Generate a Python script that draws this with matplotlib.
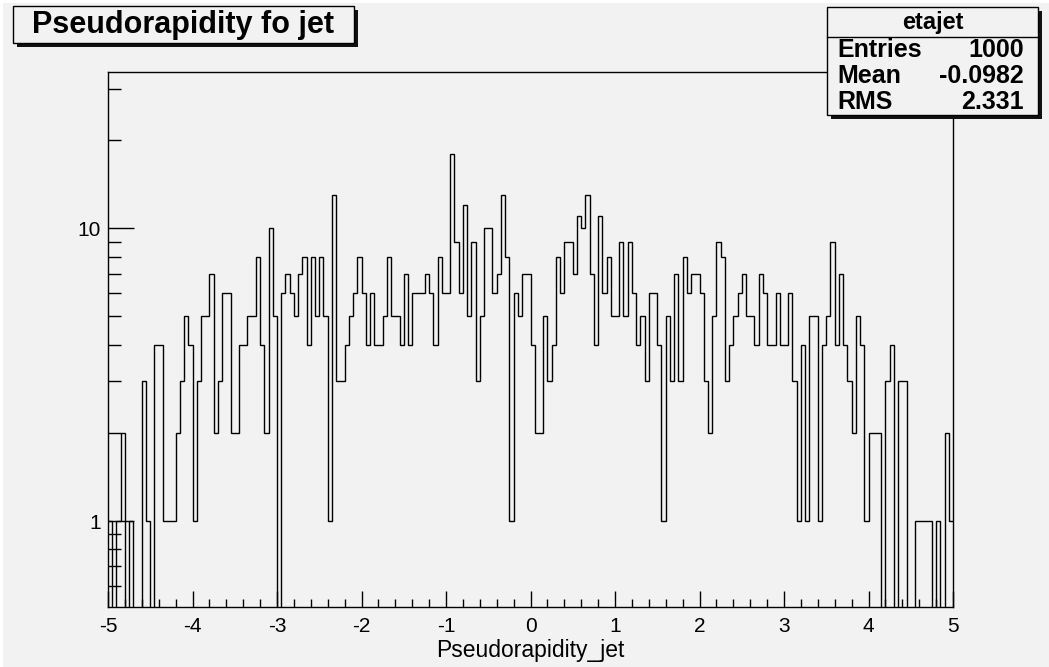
import matplotlib
matplotlib.use('Agg')
import matplotlib.pyplot as plt
import numpy as np
from matplotlib.patches import Rectangle
from matplotlib.ticker import MultipleLocator, FixedLocator, FuncFormatter, NullFormatter

# histogram etajet: 200 bins from -5 to 5, counts
x_min, x_max, n_bins = -5.0, 5.0, 200
counts = [
    1, 0, 1, 2, 0, 1, 0, 0, 3, 1, 0, 4, 4, 1, 1, 1, 2, 3, 5, 4, 1, 3, 5, 5, 7, 2, 3, 6, 6, 2, 2, 4, 4,
    5, 5, 8, 4, 2, 10, 5, 0, 6, 7, 6, 5, 7, 8, 4, 8, 5, 8, 5, 1, 13, 3, 3, 4, 5, 6, 8, 6, 4, 6, 4, 4, 5,
    8, 5, 5, 4, 7, 4, 6, 6, 6, 7, 6, 4, 8, 6, 6, 18, 9, 6, 12, 5, 9, 3, 5, 10, 10, 6, 7, 13, 8, 1, 6, 5,
    7, 7, 4, 2, 2, 5, 3, 4, 8, 6, 9, 9, 7, 11, 10, 13, 7, 4, 11, 6, 8, 5, 5, 9, 5, 9, 6, 4, 5, 3, 6, 6, 4,
    1, 5, 3, 7, 3, 8, 6, 7, 7, 6, 3, 2, 5, 9, 8, 3, 4, 5, 6, 7, 5, 5, 4, 7, 6, 4, 4, 6, 4, 4, 6, 3, 1, 4, 1,
    5, 5, 1, 4, 5, 9, 4, 7, 4, 3, 2, 5, 4, 1, 2, 2, 2, 0, 3, 4, 0, 3, 3, 0, 0, 1, 1, 1, 1, 0, 1, 0, 2, 1,
]
title = 'Pseudorapidity fo jet'
x_title = 'Pseudorapidity_jet'
hist_name = 'etajet'
stat_names = ['Entries', 'Mean', 'RMS']
stat_values = ['1000', '-0.0982', '2.331']

plt.rcParams['font.family'] = ['Liberation Sans', 'DejaVu Sans']
bg = '#f2f2f2'
W, H = 1049, 667
y_lo, y_hi = 0.5084, 34.2

fig = plt.figure(figsize=(W / 100, H / 100), dpi=100, facecolor=bg)
ax = fig.add_axes([108 / W, 1 - 607 / H, (953 - 108) / W, (607 - 72) / H])
ax.set_facecolor(bg)
ax.set_yscale('log')

edges = np.linspace(x_min, x_max, n_bins + 1)
vals = np.array(counts, dtype=float)
vals[vals <= 0] = y_lo / 10  # empty bins drop below the frame like in ROOT
ax.stairs(vals, edges, baseline=None, color='black', lw=1.0)

ax.set_xlim(x_min, x_max)
ax.set_ylim(y_lo, y_hi)
for s in ax.spines.values():
    s.set_linewidth(1.0)

ax.xaxis.set_major_locator(MultipleLocator(1))
ax.xaxis.set_minor_locator(MultipleLocator(0.2))
ax.xaxis.set_major_formatter(FuncFormatter(lambda v, _: '%d' % round(v)))
ax.yaxis.set_major_locator(FixedLocator([1, 10]))
ax.yaxis.set_minor_locator(FixedLocator([0.6, 0.7, 0.8, 0.9, 2, 3, 4, 5, 6, 7, 8, 9, 20, 30]))
ax.yaxis.set_major_formatter(FuncFormatter(lambda v, _: '%g' % v))
ax.yaxis.set_minor_formatter(NullFormatter())

ax.tick_params(axis='x', which='major', direction='in', length=11.5, width=1.0, pad=7, labelsize=15)
ax.tick_params(axis='x', which='minor', direction='in', length=5.8, width=1.0)
ax.tick_params(axis='y', which='major', direction='in', length=18.5, width=1.0, pad=5, labelsize=15)
ax.tick_params(axis='y', which='minor', direction='in', length=9.3, width=1.0)
ax.set_xlabel(x_title, fontsize=16.5, labelpad=2)

# overlay in pixel coordinates for the ROOT boxes
ov = fig.add_axes([0, 0, 1, 1], zorder=5)
ov.set_xlim(0, W)
ov.set_ylim(H, 0)
ov.axis('off')
ov.add_patch(Rectangle((0, 0), W, 3, facecolor='white', edgecolor='none'))
ov.add_patch(Rectangle((0, 0), 3, H, facecolor='white', edgecolor='none'))

# title box
ov.add_patch(Rectangle((16.5, 10), 341.5, 37, facecolor='#111111', edgecolor='none'))
ov.add_patch(Rectangle((12.7, 6), 341.5, 37, facecolor=bg, edgecolor='black', lw=1.0))
ov.text(183.5, 25, title, ha='center', va='center', fontsize=22, fontweight='bold')

# stats box
ov.add_patch(Rectangle((830.5, 10.5), 211, 108, facecolor='#111111', edgecolor='none'))
ov.add_patch(Rectangle((827, 7), 211, 108, facecolor=bg, edgecolor='black', lw=1.0))
ov.plot([827, 1038], [37, 37], color='black', lw=1.0)
ov.text(932.5, 22, hist_name, ha='center', va='center', fontsize=17, fontweight='bold')
for i, (name, value) in enumerate(zip(stat_names, stat_values)):
    yy = 50 + 26 * i
    ov.text(837, yy, name, ha='left', va='center', fontsize=18, fontweight='bold')
    ov.text(1024, yy, value, ha='right', va='center', fontsize=18, fontweight='bold')

fig.savefig('out.png', dpi=100, facecolor=bg)
